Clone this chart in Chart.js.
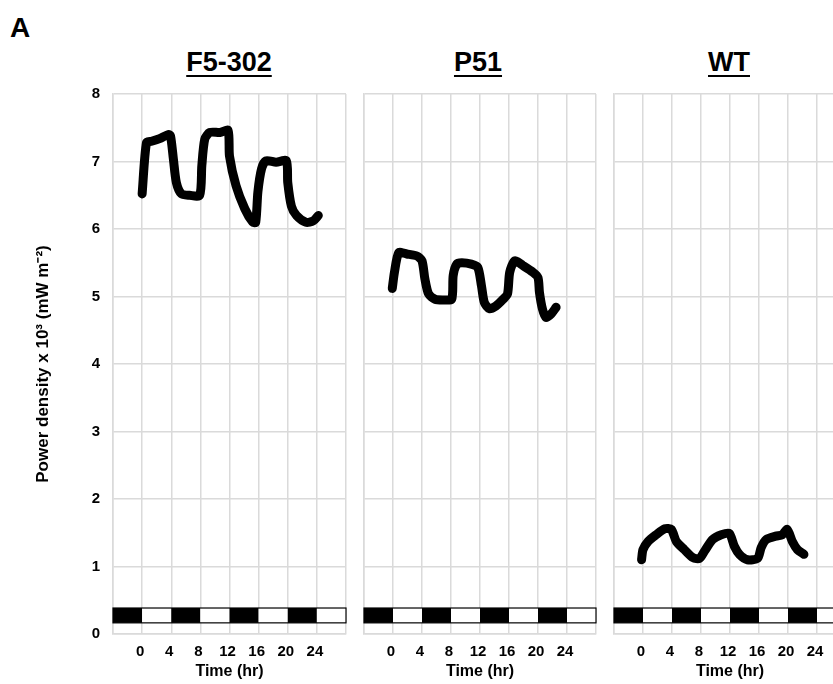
<!DOCTYPE html>
<html>
<head>
<meta charset="utf-8">
<script src="https://cdn.jsdelivr.net/npm/chart.js@4"></script>
<style>
  html, body { margin: 0; padding: 0; background: #fff; }
  #wrap { position: relative; width: 833px; height: 684px; overflow: hidden; font-family: "Liberation Sans", Arial, sans-serif; }
  .panel { position: absolute; top: 0; height: 684px; }
  .ttl { position: absolute; top: 47px; font-weight: bold; font-size: 27px; text-decoration: underline; text-underline-offset: 4px; text-decoration-thickness: 2px; transform: translateX(-50%); white-space: nowrap; }
  #lbl { position: absolute; left: 10px; top: 12px; font-weight: bold; font-size: 28px; }
</style>
</head>
<body>
<div id="wrap">
  <div id="lbl">A</div>
  <div class="ttl" style="left:229px">F5-302</div>
  <div class="ttl" style="left:478px">P51</div>
  <div class="ttl" style="left:729px">WT</div>
  <div class="panel" style="left:0;width:355px"><canvas id="c1"></canvas></div>
  <div class="panel" style="left:355px;width:250px"><canvas id="c2"></canvas></div>
  <div class="panel" style="left:605px;width:255px"><canvas id="c3"></canvas></div>
</div>
<script>
// F5-302
const f5Hours = [0, 0.6, 1.3, 2.4, 3.6, 3.9, 4.3, 4.7, 5.4, 6.5, 7.9, 8.2, 8.6, 9.3, 10.7, 11.8, 12.0, 12.9, 14.1, 15.2, 15.6, 15.9, 16.4, 17.0, 18.4, 19.8, 20.0, 20.5, 21.2, 22.5, 23.5, 24.2];
const f5Power = [6.52, 7.28, 7.30, 7.34, 7.40, 7.38, 7.03, 6.69, 6.52, 6.50, 6.50, 6.94, 7.33, 7.43, 7.43, 7.46, 7.08, 6.64, 6.30, 6.10, 6.10, 6.55, 6.89, 7.01, 6.99, 7.01, 6.69, 6.34, 6.20, 6.10, 6.12, 6.20];
// P51
const p51Hours = [-0.1, 0.2, 0.8, 1.9, 3.3, 4.0, 4.4, 4.9, 5.8, 7.0, 8.1, 8.3, 8.8, 9.5, 10.8, 11.7, 12.2, 12.6, 13.3, 14.2, 15.2, 15.8, 16.1, 16.8, 17.9, 19.3, 20.0, 20.2, 20.6, 21.1, 21.8, 22.5];
const p51Power = [5.12, 5.36, 5.65, 5.63, 5.60, 5.53, 5.26, 5.04, 4.96, 4.95, 4.96, 5.31, 5.48, 5.50, 5.48, 5.43, 5.16, 4.91, 4.82, 4.86, 4.96, 5.04, 5.36, 5.53, 5.46, 5.36, 5.28, 5.06, 4.82, 4.69, 4.74, 4.84];
// WT
const wtHours = [-0.2, 0, 0.7, 1.8, 3.0, 3.9, 4.6, 5.7, 6.9, 7.8, 8.5, 9.6, 10.8, 11.9, 12.6, 13.3, 14.4, 15.8, 16.3, 17.0, 18.3, 19.2, 19.9, 20.6, 21.3, 22.2];
const wtPower = [1.10, 1.25, 1.37, 1.47, 1.56, 1.55, 1.37, 1.25, 1.13, 1.12, 1.23, 1.40, 1.47, 1.49, 1.30, 1.18, 1.10, 1.12, 1.28, 1.40, 1.45, 1.47, 1.55, 1.37, 1.25, 1.18];

// light / dark bar
const phaseEdges = [-4, 0, 4, 8, 12, 16, 20, 24, 28];
const phaseDark = [true, false, true, false, true, false, true, false];
const phaseBarLow = 0.165;
const phaseBarHigh = 0.385;

const xTicks = [0, 4, 8, 12, 16, 20, 24];
const yTitle = 'Power density x 10\u00B3 (mW m\u207B\u00B2)';
const FONT = '"Liberation Sans", Arial, sans-serif';

const phaseBar = {
  id: 'phaseBar',
  beforeDatasetsDraw(chart) {
    const { ctx, scales: { x, y } } = chart;
    const top = y.getPixelForValue(phaseBarHigh);
    const bot = y.getPixelForValue(phaseBarLow);
    ctx.save();
    for (let i = 0; i < phaseDark.length; i++) {
      const l = x.getPixelForValue(phaseEdges[i]);
      const r = x.getPixelForValue(phaseEdges[i + 1]);
      ctx.fillStyle = phaseDark[i] ? '#000' : '#fff';
      ctx.fillRect(l, top, r - l, bot - top);
    }
    ctx.strokeStyle = '#000';
    ctx.lineWidth = 1.2;
    const l0 = x.getPixelForValue(phaseEdges[0]);
    const r0 = x.getPixelForValue(phaseEdges[phaseEdges.length - 1]);
    ctx.strokeRect(l0, top, r0 - l0, bot - top);
    ctx.restore();
  }
};

function makePanel(id, hours, power, showY, pad) {
  return new Chart(document.getElementById(id), {
    type: 'line',
    data: {
      datasets: [{
        data: hours.map((h, i) => ({ x: h, y: power[i] })),
        borderColor: '#000',
        borderWidth: 9,
        borderCapStyle: 'round',
        borderJoinStyle: 'round',
        pointRadius: 0,
        tension: 0.25,
      }],
    },
    options: {
      responsive: true,
      maintainAspectRatio: false,
      animation: false,
      layout: { padding: { top: 94, bottom: 0, left: pad[0], right: pad[1] } },
      plugins: { legend: { display: false }, tooltip: { enabled: false } },
      scales: {
        x: {
          type: 'linear',
          min: -4,
          max: 28,
          afterFit: (s) => { s.height = 50; },
          afterBuildTicks: (s) => { s.ticks = phaseEdges.map((v) => ({ value: v })); },
          grid: { color: '#dadada', lineWidth: 1.5, drawTicks: false },
          border: { color: '#dadada', width: 1.5 },
          ticks: {
            padding: 9,
            labelOffset: -2,
            maxRotation: 0,
            autoSkip: false,
            color: '#000',
            font: { family: FONT, size: 15, weight: 'bold' },
            callback: (v) => (xTicks.includes(v) ? String(v) : ''),
          },
          title: {
            display: true,
            text: 'Time (hr)',
            color: '#000',
            font: { family: FONT, size: 16, weight: 'bold' },
            padding: { top: 0, bottom: 3 },
          },
        },
        y: {
          min: 0,
          max: 8,
          afterFit: (s) => { s.width = showY ? 113 : 0; },
          grid: { color: '#dadada', lineWidth: 1.5, drawTicks: false },
          border: { color: '#dadada', width: 1.5 },
          ticks: {
            display: showY,
            stepSize: 1,
            padding: 13,
            color: '#000',
            font: { family: FONT, size: 15, weight: 'bold' },
          },
          title: {
            display: showY,
            text: yTitle,
            color: '#000',
            font: { family: FONT, size: 17, weight: 'bold' },
            padding: { top: 33, bottom: 0 },
          },
        },
      },
    },
    plugins: [phaseBar],
  });
}

makePanel('c1', f5Hours, f5Power, true, [0, 8]);
makePanel('c2', p51Hours, p51Power, false, [7, 9]);
makePanel('c3', wtHours, wtPower, false, [7, 14]);
</script>
</body>
</html>
